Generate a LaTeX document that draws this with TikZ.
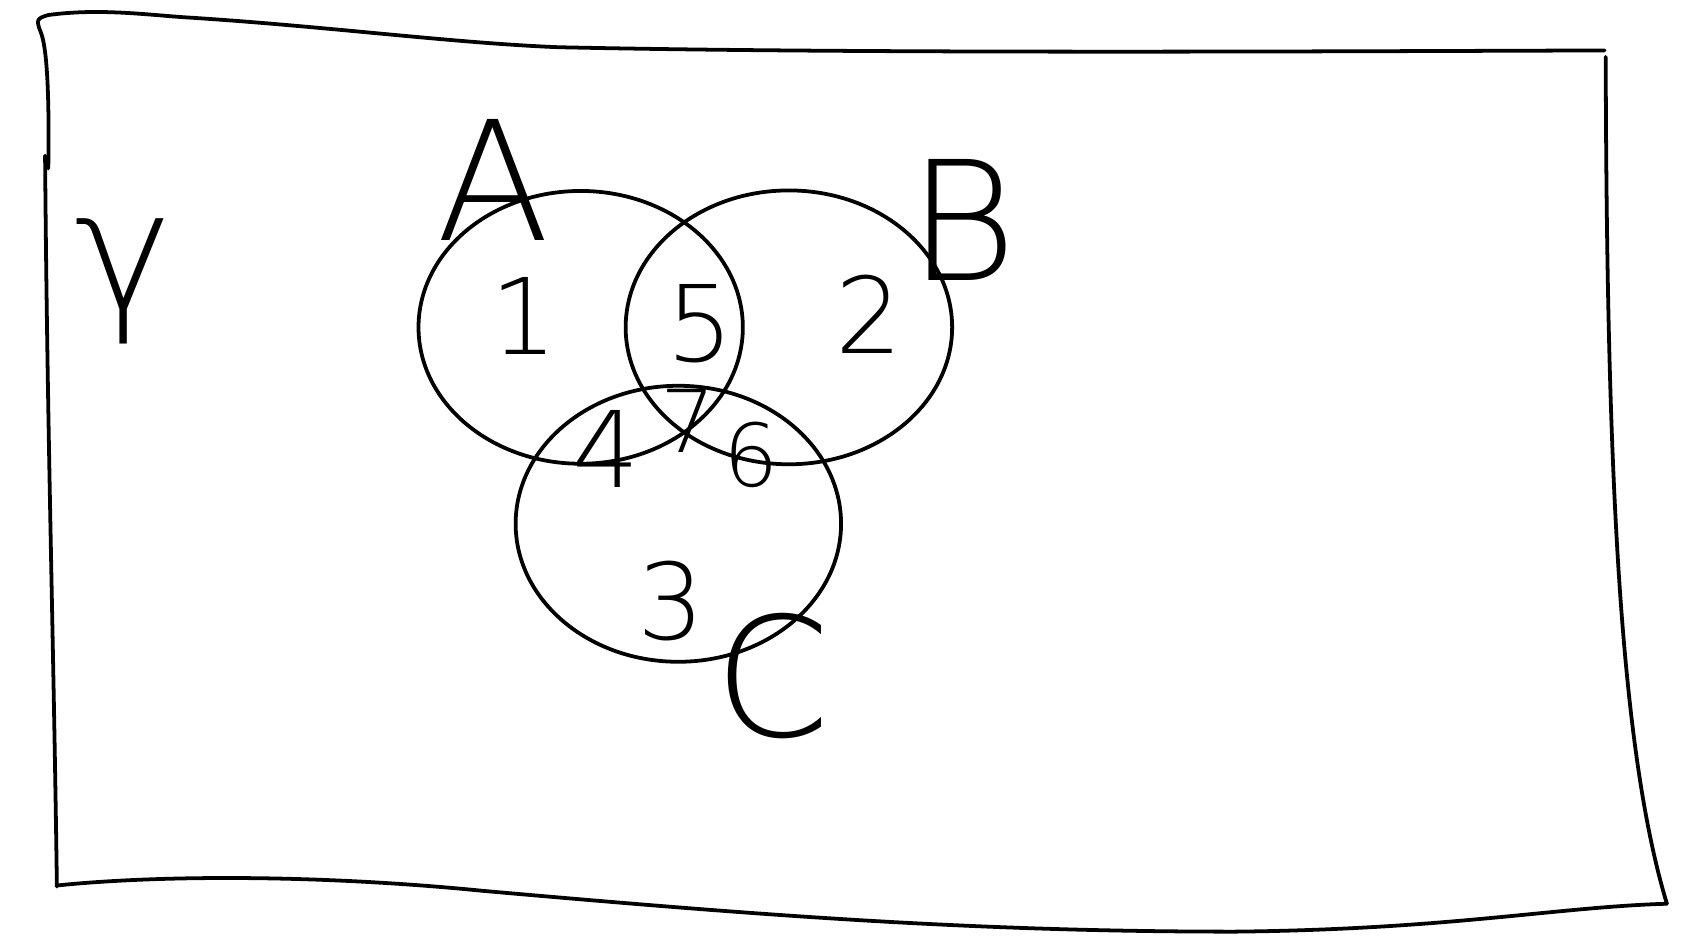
\documentclass[tikz,border=0pt]{standalone}
\usepackage{fontspec}
\newfontfamily\handfont{DejaVu Sans ExtraLight}
\usetikzlibrary{shapes.geometric}
\tikzset{
  every picture/.style={line width=1pt,line cap=round},
  setring/.style={ellipse,draw,inner sep=0pt},
  num/.style={font=\handfont\fontsize{28}{30}\selectfont,inner sep=0pt},
  smallnum/.style={font=\handfont\fontsize{23}{25}\selectfont,inner sep=0pt},
  lbl/.style={font=\handfont\fontsize{44}{46}\selectfont,inner sep=0pt},
}

\begin{document}
\begin{tikzpicture}[x=0.01cm,y=-0.01cm]
\useasboundingbox (0,0) rectangle (1568,883);
% frame
\draw (45,157) .. controls (46,90) and (44,45) .. (38,30) .. controls (33,18) and (35,17) .. (45,14)
  .. controls (90,8) and (130,13) .. (170,16) .. controls (300,24) and (420,40) .. (520,44)
  .. controls (800,50) and (1200,48) .. (1495,47);
\draw (42,145) .. controls (44,400) and (50,600) .. (53,826);
\draw (1496,53) .. controls (1497,450) and (1510,700) .. (1553,842);
\draw (53,825) .. controls (150,815) and (300,815) .. (450,830) .. controls (700,852) and (900,868) .. (1150,868)
  .. controls (1350,866) and (1450,845) .. (1553,842);
% sets
\node[setring,minimum width=3.02cm,minimum height=2.54cm] (setA) at (541,305) {};
\node[setring,minimum width=3.04cm,minimum height=2.55cm] (setB) at (735,305) {};
\node[setring,minimum width=3.03cm,minimum height=2.57cm] (setC) at (632,488) {};
\node[lbl] (uni) at (115,262) {γ};
\node[lbl] (labA) at (460,168) {A};
\node[lbl] (labB) at (897,205) {B};
\node[lbl] (labC) at (720,630) {C};
% regions
\node[num] (n1) at (488,294) {1};
\node[num] (n5) at (652,302) {5};
\node[num] (n2) at (810,293) {2};
\node[num] (n4) at (565,418) {4};
\node[smallnum] (n7) at (641,392) {7};
\node[smallnum] (n6) at (700,424) {6};
\node[num] (n3) at (625,560) {3};
\end{tikzpicture}
\end{document}
